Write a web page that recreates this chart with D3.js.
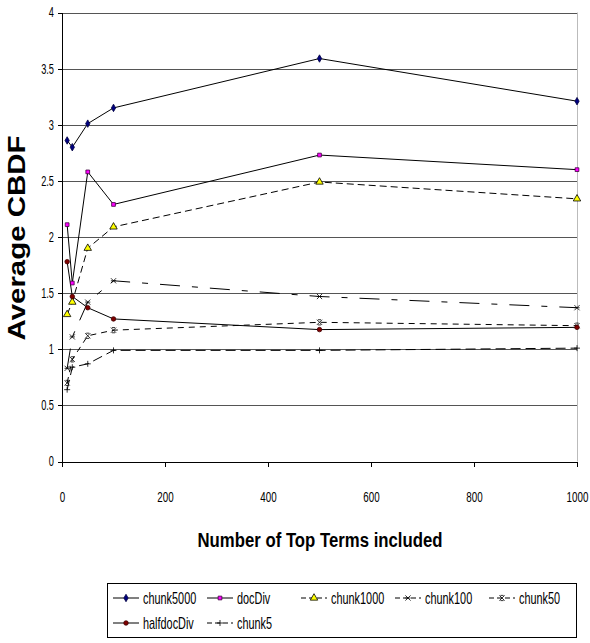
<!DOCTYPE html>
<html lang="en">
<head>
<meta charset="utf-8">
<title>Average CBDF</title>
<script src="https://cdn.jsdelivr.net/npm/d3@7"></script>
<style>
	body { margin: 0; background: #fff; }
	text { font-family: "Liberation Sans Narrow", "Arial Narrow", "Liberation Sans", sans-serif; fill: #000; }
	.axis path, .axis line { stroke: #000; shape-rendering: crispEdges; }
	.axis text { font-size: 14px; }
	.grid line { stroke: #555; shape-rendering: crispEdges; }
</style>
</head>
<body>
<script>
var topTerms = [10, 20, 50, 100, 500, 1000];
var chunk5000 = [2.86, 2.80, 3.01, 3.15, 3.59, 3.21];
var docDiv = [2.11, 1.59, 2.58, 2.29, 2.73, 2.60];
var chunk1000 = [1.31, 1.42, 1.90, 2.09, 2.49, 2.34];
var chunk100 = [0.83, 1.11, 1.42, 1.61, 1.47, 1.37];
var chunk50 = [0.70, 0.91, 1.12, 1.17, 1.24, 1.21];
var halfdocDiv = [1.78, 1.47, 1.37, 1.27, 1.175, 1.195];
var chunk5 = [0.64, 0.84, 0.87, 0.99, 0.99, 1.01];
var xTicks = [0, 200, 400, 600, 800, 1000];
var yTicks = [0, 0.5, 1, 1.5, 2, 2.5, 3, 3.5, 4];

var w = 590, h = 643;
var plotLeft = 62, plotRight = 577, plotTop = 12.5, plotBottom = 461.5;

var svg = d3.select("body").append("svg")
	.attr("width", w)
	.attr("height", h);

var xScale = d3.scaleLinear().domain([0, 1000]).range([plotLeft, plotRight]);
var yScale = d3.scaleLinear().domain([0, 4]).range([plotBottom, plotTop]);

// squeeze a text to a narrow look
function narrow(sel, k) {
	sel.each(function() {
		var len = this.getComputedTextLength();
		d3.select(this)
			.attr("textLength", len * k)
			.attr("lengthAdjust", "spacingAndGlyphs");
	});
}

// marker shapes
function star(s) {
	return "M" + (-s) + "," + (-s) + "L" + s + "," + s + "M" + (-s) + "," + s + "L" + s + "," + (-s) +
		"M" + (-s) + ",0L" + s + ",0";
}
function xbar(s) {
	return "M" + (-s) + "," + (-s) + "L" + s + "," + s + "M" + (-s) + "," + s + "L" + s + "," + (-s) +
		"M" + (-s * 0.6) + "," + (-s) + "L" + (s * 0.6) + "," + (-s) +
		"M" + (-s * 0.6) + "," + s + "L" + (s * 0.6) + "," + s;
}
function plus(s) {
	return "M" + (-s) + ",0L" + s + ",0M0," + (-s) + "L0," + s;
}

var series = [
	{name: "chunk5000", values: chunk5000, dash: null,
		marker: d3.symbol().type(d3.symbolDiamond).size(16)(), fill: "#000080", stroke: "#000040"},
	{name: "docDiv", values: docDiv, dash: null,
		marker: d3.symbol().type(d3.symbolSquare).size(14)(), fill: "#ff00ff", stroke: "#400040"},
	{name: "chunk1000", values: chunk1000, dash: "7,4",
		marker: d3.symbol().type(d3.symbolTriangle).size(24)(), fill: "#ffff00", stroke: "#000"},
	{name: "chunk100", values: chunk100, dash: "20,12,6,12",
		marker: star(2.6), fill: "none", stroke: "#000"},
	{name: "chunk50", values: chunk50, dash: "6,5",
		marker: xbar(2.6), fill: "none", stroke: "#000"},
	{name: "halfdocDiv", values: halfdocDiv, dash: null,
		marker: d3.symbol().type(d3.symbolCircle).size(16)(), fill: "#800000", stroke: "#400000"},
	{name: "chunk5", values: chunk5, dash: "10,5",
		marker: plus(3), fill: "none", stroke: "#000"}
];

// horizontal gridlines
svg.append("g")
	.attr("class", "grid")
	.selectAll("line")
	.data(yTicks.filter(function(d) { return d > 0; }))
	.enter()
	.append("line")
	.attr("x1", plotLeft)
	.attr("x2", plotRight)
	.attr("y1", function(d) { return Math.round(yScale(d)) + 0.5; })
	.attr("y2", function(d) { return Math.round(yScale(d)) + 0.5; });

// right border of plot area
svg.append("line")
	.attr("x1", plotRight + 0.5).attr("x2", plotRight + 0.5)
	.attr("y1", plotTop).attr("y2", plotBottom)
	.attr("stroke", "#bbb");

// axes
var xAxis = d3.axisBottom(xScale).tickValues(xTicks).tickSize(5).tickPadding(26).tickSizeOuter(0)
	.tickFormat(d3.format("d"));
var yAxis = d3.axisLeft(yScale).tickValues(yTicks).tickSize(4).tickPadding(4).tickSizeOuter(0)
	.tickFormat(d3.format("~g"));

var gx = svg.append("g")
	.attr("class", "axis")
	.attr("transform", "translate(0," + plotBottom + ")")
	.call(xAxis);

var gy = svg.append("g")
	.attr("class", "axis")
	.attr("transform", "translate(" + plotLeft + ",0)")
	.call(yAxis);

gx.selectAll("text").call(narrow, 0.7);
gy.selectAll("text").call(narrow, 0.66);

// lines
var line = d3.line()
	.x(function(d, i) { return xScale(topTerms[i]); })
	.y(function(d) { return yScale(d); });

svg.append("g")
	.selectAll("path")
	.data(series)
	.enter()
	.append("path")
	.attr("d", function(s) { return line(s.values); })
	.attr("fill", "none")
	.attr("stroke", "#000")
	.attr("stroke-width", 1)
	.attr("stroke-dasharray", function(s) { return s.dash; });

// markers
series.forEach(function(s) {
	svg.append("g")
		.selectAll("path")
		.data(s.values)
		.enter()
		.append("path")
		.attr("transform", function(d, i) {
			return "translate(" + xScale(topTerms[i]) + "," + yScale(d) + ")";
		})
		.attr("d", s.marker)
		.attr("fill", s.fill)
		.attr("stroke", s.stroke)
		.attr("stroke-width", 0.8);
});

// axis titles
svg.append("text")
	.attr("transform", "translate(25,238) rotate(-90)")
	.attr("text-anchor", "middle")
	.attr("textLength", 205)
	.attr("lengthAdjust", "spacingAndGlyphs")
	.style("font-family", "'Liberation Sans', Arial, sans-serif")
	.style("font-weight", "bold")
	.style("font-size", "23px")
	.text("Average CBDF");

svg.append("text")
	.attr("x", 320)
	.attr("y", 547)
	.attr("text-anchor", "middle")
	.attr("textLength", 245)
	.attr("lengthAdjust", "spacingAndGlyphs")
	.style("font-weight", "bold")
	.style("font-size", "20px")
	.text("Number of Top Terms included");

// legend: five equal columns, two rows
var legendCol = 94;
var legendRow = [0, 0, 0, 0, 0, 1, 1];
var legendColIdx = [0, 1, 2, 3, 4, 0, 1];

svg.append("rect")
	.attr("x", 107.5).attr("y", 583.5)
	.attr("width", 469).attr("height", 54)
	.attr("fill", "none")
	.attr("stroke", "#000");

var items = svg.append("g")
	.selectAll("g")
	.data(series)
	.enter()
	.append("g")
	.attr("transform", function(s, i) {
		return "translate(" + (113 + legendColIdx[i] * legendCol) + "," + (598 + legendRow[i] * 25) + ")";
	});

items.append("line")
	.attr("x1", 0).attr("x2", 26)
	.attr("stroke", "#000")
	.attr("stroke-dasharray", function(s) { return s.dash ? "5,3" : null; });

items.append("path")
	.attr("transform", "translate(13,0)")
	.attr("d", function(s) { return s.marker; })
	.attr("fill", function(s) { return s.fill; })
	.attr("stroke", function(s) { return s.stroke; })
	.attr("stroke-width", 0.8);

items.append("text")
	.attr("x", 30)
	.attr("y", 6)
	.style("font-size", "17px")
	.text(function(s) { return s.name; })
	.call(narrow, 0.64);
</script>
</body>
</html>
